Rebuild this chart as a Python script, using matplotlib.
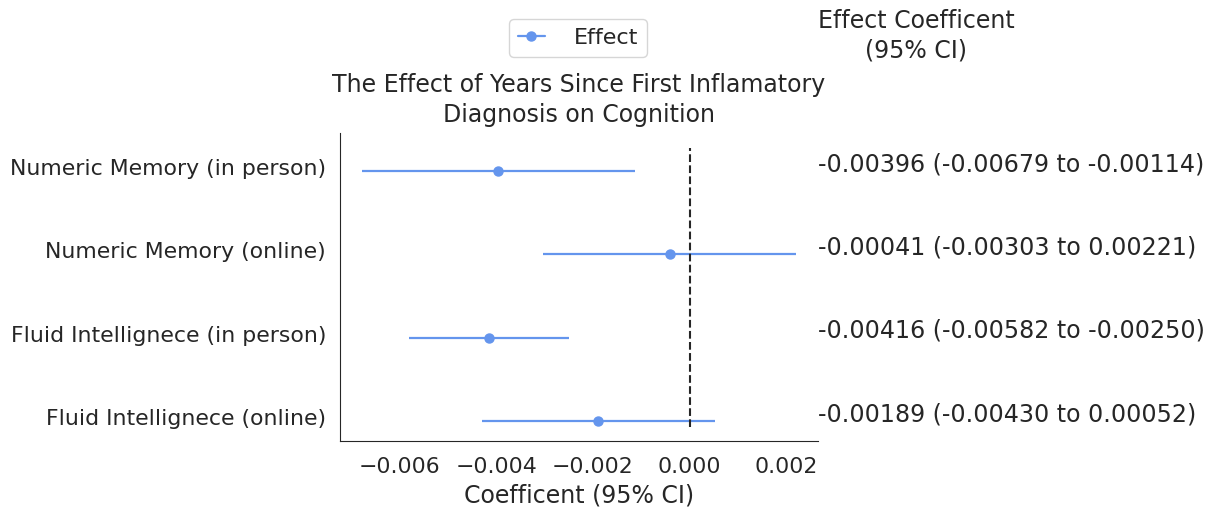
import numpy as np
import matplotlib
matplotlib.use("Agg")
import matplotlib.pyplot as plt
import matplotlib.transforms as mtransforms
import seaborn as sns

labels = ["Numeric Memory (in person)", "Numeric Memory (online)",
          "Fluid Intellignece (in person)", "Fluid Intellignece (online)"]
effect = [-0.00396, -0.00041, -0.00416, -0.00189]
lower = [-0.00679, -0.00303, -0.00582, -0.00430]
upper = [-0.00114, 0.00221, -0.00250, 0.00052]

sns.set_style("white")
plt.rcParams['font.family'] = ['DejaVu Sans']
txt = '#262626'

fig = plt.figure(figsize=(12.08, 5.08), dpi=100)
ax = fig.add_axes([340/1208, 67/508, 478/1208, 308/508])

ypos = np.arange(len(labels))[::-1]
ax.hlines(ypos, lower, upper, color='cornflowerblue', lw=1.6)
ax.plot(effect, ypos, 'o', color='cornflowerblue', ms=6.5, label='Effect')
ax.axvline(0, ymin=0.045, ymax=0.951, color='#262626', linestyle='--', lw=1.5)

ax.set_ylim(-0.24, 3.457)
span = max(upper) - min(lower)
ax.set_xlim(min(lower) - 0.05 * span, max(upper) + 0.05 * span)
ax.set_yticks(ypos)
ax.set_yticklabels(labels, fontsize=15.8, color=txt)
ax.tick_params(axis='y', pad=6.5)
shift = mtransforms.ScaledTranslation(0, 4/100, fig.dpi_scale_trans)
for lab in ax.get_yticklabels():
    lab.set_transform(lab.get_transform() + shift)
ax.set_xticks([-0.006, -0.004, -0.002, 0.0, 0.002])
ax.tick_params(axis='x', labelsize=15.8, colors=txt, pad=8)
ax.set_xlabel("Coefficent (95% CI)", fontsize=17, color=txt, labelpad=5)
ax.set_title("The Effect of Years Since First Inflamatory\nDiagnosis on Cognition",
             fontsize=17, color=txt, pad=8, linespacing=1.3)
sns.despine(ax=ax)

for y, e, lo, hi in zip(ypos, effect, lower, upper):
    ax.text(1.0, y, f"{e:.5f} ({lo:.5f} to {hi:.5f})", fontsize=17.1,
            color=txt, va='baseline', ha='left',
            transform=ax.get_yaxis_transform())
fig.text(916/1208, 1 - 36/508, "Effect Coefficent\n(95% CI)", fontsize=17,
         color=txt, ha='center', va='center', linespacing=1.3)

leg_handle = plt.Line2D([], [], color='cornflowerblue', marker='o', lw=1.6, ms=6.5)
fig.legend([leg_handle], ['Effect'], loc='center', bbox_to_anchor=(578/1208, 1 - 38/508),
           fontsize=16, frameon=True, handlelength=1.2, handletextpad=1.3)

fig.savefig("out.png", dpi=100)
